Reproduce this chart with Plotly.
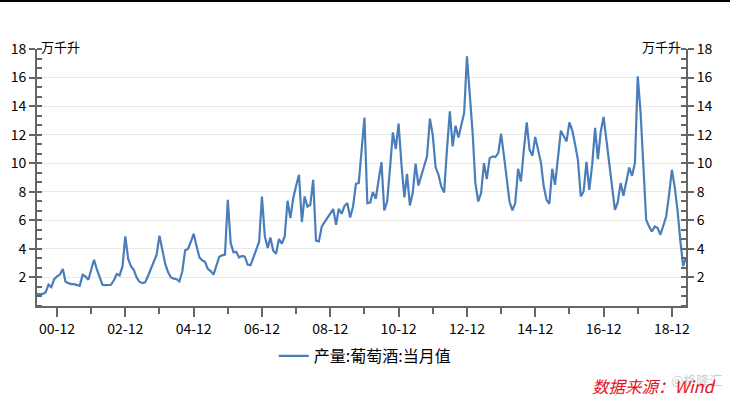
import plotly.graph_objects as go
import pandas as pd

# ---- data ----
start_month = "2000-05-01"
series_name = "产量:葡萄酒:当月值"
unit_label = "万千升"
values = [
    0.83, 0.83, 0.85, 0.95, 1.49, 1.32, 1.88, 2.07, 2.2, 2.6,
    1.72, 1.6, 1.53, 1.53, 1.45, 1.41, 2.19, 2.07, 1.84, 2.5,
    3.24, 2.54, 2.0, 1.49, 1.46, 1.46, 1.49, 1.8, 2.24, 2.14,
    2.77, 4.87, 3.3, 2.77, 2.54, 2.0, 1.7, 1.6, 1.65, 2.1,
    2.6, 3.2, 3.6, 4.92, 3.94, 2.95, 2.4, 2.0, 1.92, 1.88,
    1.72, 2.4, 3.9, 4.0, 4.5, 5.06, 4.2, 3.4, 3.2, 3.1,
    2.6, 2.45, 2.2, 2.85, 3.45, 3.55, 3.6, 7.44, 4.4, 3.75,
    3.8, 3.4, 3.5, 3.45, 2.9, 2.85, 3.45, 3.94, 4.5, 7.67,
    4.87, 4.06, 4.8, 3.87, 3.66, 4.69, 4.36, 4.87, 7.37, 6.16,
    7.56, 8.4, 9.19, 5.88, 7.67, 6.97, 7.09, 8.84, 4.57, 4.52,
    5.57, 5.88, 6.2, 6.5, 6.79, 5.69, 6.81, 6.46, 7.0, 7.21,
    6.2, 6.97, 8.56, 8.61, 10.9, 13.2, 7.2, 7.25, 7.98, 7.51,
    8.8, 10.08, 6.69, 7.32, 9.7, 12.16, 10.99, 12.77, 9.9, 7.6,
    9.26, 7.04, 7.91, 9.97, 8.44, 9.12, 9.8, 10.48, 13.12, 12.0,
    9.71, 9.19, 8.37, 7.95, 10.95, 13.63, 11.18, 12.63, 11.81, 12.6,
    13.52, 17.48, 14.6, 12.0, 8.61, 7.32, 7.91, 10.01, 8.89, 10.36,
    10.48, 10.43, 10.71, 12.07, 10.5, 9.0, 7.32, 6.69, 7.21, 9.61,
    8.72, 10.9, 12.86, 10.95, 10.53, 11.84, 10.9, 10.01, 8.4, 7.44,
    7.16, 9.61, 8.49, 10.5, 12.28, 11.9, 11.53, 12.86, 12.3, 11.3,
    10.25, 7.67, 8.02, 10.1, 8.14, 9.9, 12.47, 10.29, 12.23, 13.24,
    11.6, 10.1, 8.5, 6.74, 7.25, 8.61, 7.72, 8.7, 9.7, 9.12,
    10.01, 16.08, 13.5, 9.6, 6.04, 5.57, 5.22, 5.57, 5.46, 4.99,
    5.69, 6.27, 7.8, 9.54, 8.3, 6.6, 4.6, 2.8, 3.4,
]
dates = pd.date_range(start_month, periods=len(values), freq="MS")
y_ticks = [2, 4, 6, 8, 10, 12, 14, 16, 18]
source_text = "数据来源：Wind"
watermark_text = "@格隆汇"

FONT = "Noto Sans CJK SC, Microsoft YaHei, sans-serif"
LINE_COLOR = "#4a7ebb"
AXIS_COLOR = "#666666"

fig = go.Figure()
fig.add_trace(go.Scatter(
    x=dates, y=values, mode="lines", name=series_name,
    line=dict(color=LINE_COLOR, width=2.2),
))
fig.add_trace(go.Scatter(
    x=dates, y=values, mode="lines", yaxis="y2", showlegend=False,
    hoverinfo="skip", opacity=0, line=dict(width=0),
))

W, H = 730, 396
ml, mr, mt, mb = 37, 44, 49, 90
pw, ph = W - ml - mr, H - mt - mb

def px(x):
    return (x - ml) / pw

def py(y):
    return (H - mb - y) / ph

yax = dict(
    range=[0, 18], tickvals=y_ticks, ticks="outside", ticklen=6, tickwidth=2,
    tickcolor=AXIS_COLOR, showline=True, linecolor=AXIS_COLOR, linewidth=2,
    tickfont=dict(family=FONT, size=14, color="#000"), zeroline=False,
    minor=dict(tick0=0, dtick=2 / 3, ticks="inside", ticklen=5, tickwidth=2,
               tickcolor=AXIS_COLOR, showgrid=False),
)

fig.update_layout(
    width=W, height=H,
    margin=dict(l=ml, r=mr, t=mt, b=mb, pad=0),
    paper_bgcolor="white", plot_bgcolor="white",
    font=dict(family=FONT, color="#000"),
    xaxis=dict(
        type="date", range=[dates[0], dates[-1]],
        tick0="2000-12-01", dtick="M24", tickformat="%y-%m",
        ticks="outside", ticklen=9, tickwidth=2, tickcolor=AXIS_COLOR,
        showline=True, linecolor=AXIS_COLOR, linewidth=2, showgrid=False,
        zeroline=False, tickfont=dict(family=FONT, size=14, color="#000"),
        minor=dict(tick0="2001-12-01", dtick="M12", ticks="outside", ticklen=6,
                   tickwidth=2, tickcolor=AXIS_COLOR, showgrid=False),
    ),
    yaxis=dict(**yax, showgrid=True, gridcolor="#e9e9e9", gridwidth=1, side="left"),
    yaxis2=dict(**yax, showgrid=False, overlaying="y", side="right"),
    showlegend=True,
    legend=dict(orientation="h", x=0.505, xanchor="center", y=py(356),
                yanchor="middle", font=dict(family=FONT, size=16, color="#000"),
                bgcolor="rgba(0,0,0,0)"),
    shapes=[dict(type="line", xref="paper", yref="paper",
                 x0=px(0), x1=px(W), y0=py(1), y1=py(1),
                 line=dict(color="#000", width=2))],
    annotations=[
        dict(text=unit_label, xref="paper", yref="paper", x=px(39), y=py(46),
             xanchor="left", yanchor="middle", showarrow=False,
             font=dict(family=FONT, size=13, color="#000")),
        dict(text=unit_label, xref="paper", yref="paper", x=px(683), y=py(46),
             xanchor="right", yanchor="middle", showarrow=False,
             font=dict(family=FONT, size=13, color="#000")),
        dict(text=watermark_text, xref="paper", yref="paper", x=px(724), y=py(380),
             xanchor="right", yanchor="middle", showarrow=False,
             font=dict(family=FONT, size=13, color="rgba(160,160,160,0.55)")),
        dict(text="<i>" + source_text + "</i>", xref="paper", yref="paper",
             x=px(719), y=py(386), xanchor="right", yanchor="middle",
             showarrow=False, font=dict(family=FONT, size=16.5, color="#e8101e")),
    ],
)

fig.write_html("out.html")
